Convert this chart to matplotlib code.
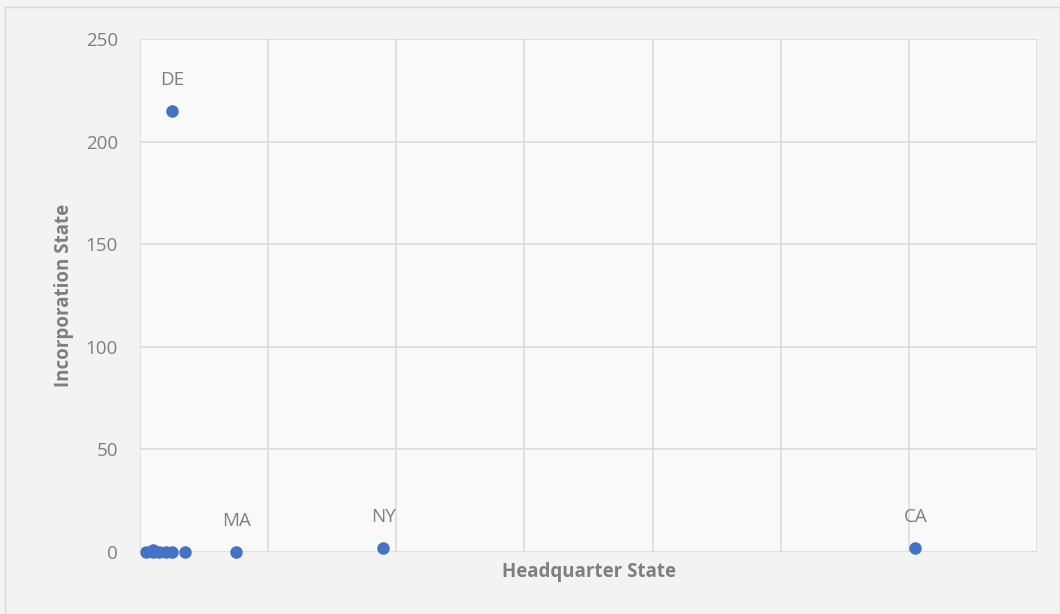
import matplotlib.pyplot as plt
from matplotlib.patches import Rectangle

# headquarter-state count (x) vs incorporation-state count (y)
hq_counts = [1, 2, 2, 3, 4, 5, 7, 5, 15, 38, 121]
inc_counts = [0, 1, 0, 0, 0, 0, 0, 215, 0, 2, 2]
point_labels = ["", "", "", "", "", "", "", "DE", "MA", "NY", "CA"]

y_ticks = [0, 50, 100, 150, 200, 250]
x_grid = [0, 20, 40, 60, 80, 100, 120, 140]

plt.rcParams['font.family'] = ['Open Sans', 'DejaVu Sans']

fig = plt.figure(figsize=(10.6, 6.14), dpi=100, facecolor='#f3f3f3')
fig.patches.append(Rectangle((5 / 1060, 0), 1 - 5 / 1060, 1 - 7 / 614,
                             transform=fig.transFigure, fill=False,
                             edgecolor='#d9d9d9', linewidth=1))

ax = fig.add_axes([0.1321, 0.101, 0.8462, 0.8355])
ax.set_facecolor('#f9f9f9')

ax.plot(hq_counts, inc_counts, 'o', color='#4472C4', markersize=8, zorder=3,
        clip_on=False)

for x, y, lab in zip(hq_counts, inc_counts, point_labels):
    if lab:
        ax.annotate(lab, (x, y), xytext=(0, 22), textcoords='offset points',
                    ha='center', va='center', color='#7f7f7f', fontsize=13.5)

ax.set_xlim(0, 140)
ax.set_ylim(0, 250)
ax.set_xticks(x_grid)
ax.set_yticks(y_ticks)
ax.set_xticklabels([])
ax.tick_params(axis='both', length=0)
ax.tick_params(axis='y', labelsize=13.5, labelcolor='#7f7f7f', pad=16)
ax.grid(True, color='#dcdcdc', linewidth=1.2)
ax.set_axisbelow(True)
for s in ax.spines.values():
    s.set_visible(False)

ax.set_xlabel('Headquarter State', fontsize=13.5, fontweight='bold',
              color='#7f7f7f', labelpad=4)
ax.set_ylabel('Incorporation State', fontsize=13.5, fontweight='bold',
              color='#7f7f7f', labelpad=8)

fig.savefig('out.png', dpi=100, facecolor=fig.get_facecolor())
